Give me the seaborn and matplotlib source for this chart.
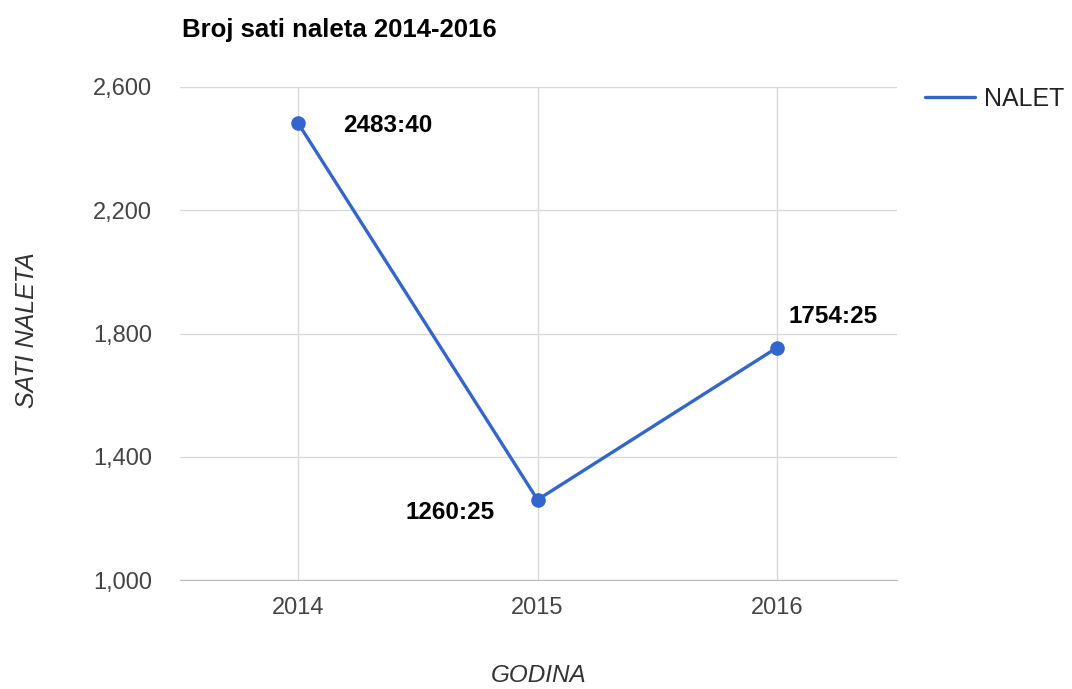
import matplotlib
matplotlib.use("Agg")
import matplotlib.pyplot as plt
import pandas as pd
import seaborn as sns

# data (hours:minutes -> decimal hours)
years = [2014, 2015, 2016]
hours = [2483 + 40 / 60, 1260 + 25 / 60, 1754 + 25 / 60]
labels = ["2483:40", "1260:25", "1754:25"]
yticks = [1000, 1400, 1800, 2200, 2600]

sns.set_style("white")
plt.rcParams["font.family"] = ["Liberation Sans", "DejaVu Sans"]

df = pd.DataFrame({"GODINA": years, "NALET": hours})
blue = "#3366CC"

fig = plt.figure(figsize=(10.72, 6.89), dpi=100)
ax = fig.add_axes([180 / 1072, 109 / 689, 717 / 1072, 493 / 689])

sns.lineplot(data=df, x="GODINA", y="NALET", ax=ax, color=blue, linewidth=2.4,
             marker="o", markersize=10.5, markeredgewidth=0, label="NALET",
             legend=False, zorder=3)

# point labels, offsets in points
offsets = [(65, -2), (-63, -9), (40, 22)]
for x, y, lab, off in zip(years, hours, labels, offsets):
    ax.annotate(lab, (x, y), xytext=off, textcoords="offset points",
                ha="center", va="center", fontsize=17.5, fontweight="bold",
                color="black")

ax.set_xlim(2013.508, 2016.5)
ax.set_ylim(1000, 2600)
ax.set_xticks(years)
ax.set_xticklabels([str(y) for y in years])
ax.set_yticks(yticks)
ax.set_yticklabels([f"{t:,}" for t in yticks])
ax.grid(True, color="#d9d9d9", linewidth=1)
for s in ["top", "right", "left"]:
    ax.spines[s].set_visible(False)
ax.spines["bottom"].set_color("#bbbbbb")
ax.tick_params(axis="both", length=0, labelsize=17, colors="#444444")
ax.tick_params(axis="y", pad=20)
ax.tick_params(axis="x", pad=12)

ax.set_xlabel("GODINA", fontsize=17.5, style="italic", color="#333333")
ax.set_ylabel("SATI NALETA", fontsize=18, style="italic", color="#333333")
ax.xaxis.set_label_coords(0.5, -(676 - 580) / 493, transform=ax.transAxes)
ax.yaxis.set_label_coords(-(180 - 27) / 717, (580 - 330) / 493, transform=ax.transAxes)
ax.xaxis.label.set_va("center")
ax.yaxis.label.set_va("center")

fig.text(182 / 1072, 1 - 30 / 689, "Broj sati naleta 2014-2016", fontsize=18.5,
         fontweight="bold", ha="left", va="center", color="black")

fig.legend([plt.Line2D([], [], color=blue, linewidth=2.4)], ["NALET"],
           loc="center left", bbox_to_anchor=(902 / 1072, 1 - 99 / 689),
           frameon=False, fontsize=18, handlelength=2.0, handletextpad=0.4,
           labelcolor="#222222")

fig.savefig("out.png", dpi=100)
